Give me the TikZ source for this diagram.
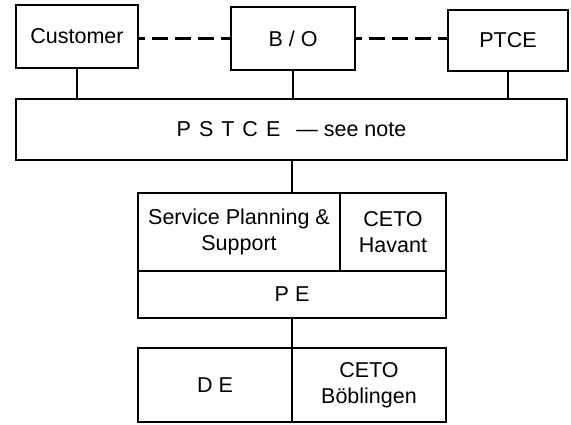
\documentclass[tikz,border=0pt]{standalone}
\usepackage{fontspec}
\setmainfont{Liberation Sans}
\usetikzlibrary{positioning}

\begin{document}
\begin{tikzpicture}[x=1pt,y=-1pt,font=\fontsize{21.5}{26}\selectfont,line width=2.5pt,
  bx/.style={draw,outer sep=0pt,inner sep=2pt,align=center},
  dlink/.style={dash pattern=on 16pt off 7pt,dash phase=9pt}]
  \useasboundingbox (0,0) rectangle (571,425);
  \node[bx,minimum width=122pt,minimum height=63pt] (cust) at (77,36.5) {Customer};
  \node[bx,minimum width=124pt,minimum height=63pt] (bo) at (293,38.5) {B / O};
  \node[bx,minimum width=120pt,minimum height=61pt] (ptce) at (508,40.5) {PTCE};
  \node[bx,minimum width=551pt,minimum height=61pt] (pstce) at (291.5,129.5) {P\hspace{8pt}S\hspace{8pt}T\hspace{8pt}C\hspace{8pt}E\hspace{16pt}\textemdash\ see note};
  \node[bx,minimum width=202pt,minimum height=78pt] (spl) at (239,232) {Service Planning \&\\Support};
  \node[bx,minimum width=106pt,minimum height=78pt,right=0pt of spl] (hav) {CETO\\Havant};
  \node[bx,minimum width=308pt,minimum height=47pt] (pe) at (292,294.5) {P\hspace{6pt}E};
  \node[bx,minimum width=154pt,minimum height=74pt] (de) at (215,385) {D\hspace{6pt}E};
  \node[bx,minimum width=154pt,minimum height=74pt,right=0pt of de] (bob) {CETO\\Böblingen};
  \draw[dlink] (bo.west -| cust.east) -- (bo.west);
  \draw[dlink] (bo.east) -- (bo.east -| ptce.west);
  \draw (cust.south) -- (cust.south |- pstce.north);
  \draw (bo.south) -- (bo.south |- pstce.north);
  \draw (ptce.south) -- (ptce.south |- pstce.north);
  \draw (pstce.south -| de.north east) -- (spl.north -| de.north east);
  \draw (pe.south -| de.north east) -- (de.north east);
\end{tikzpicture}
\end{document}
